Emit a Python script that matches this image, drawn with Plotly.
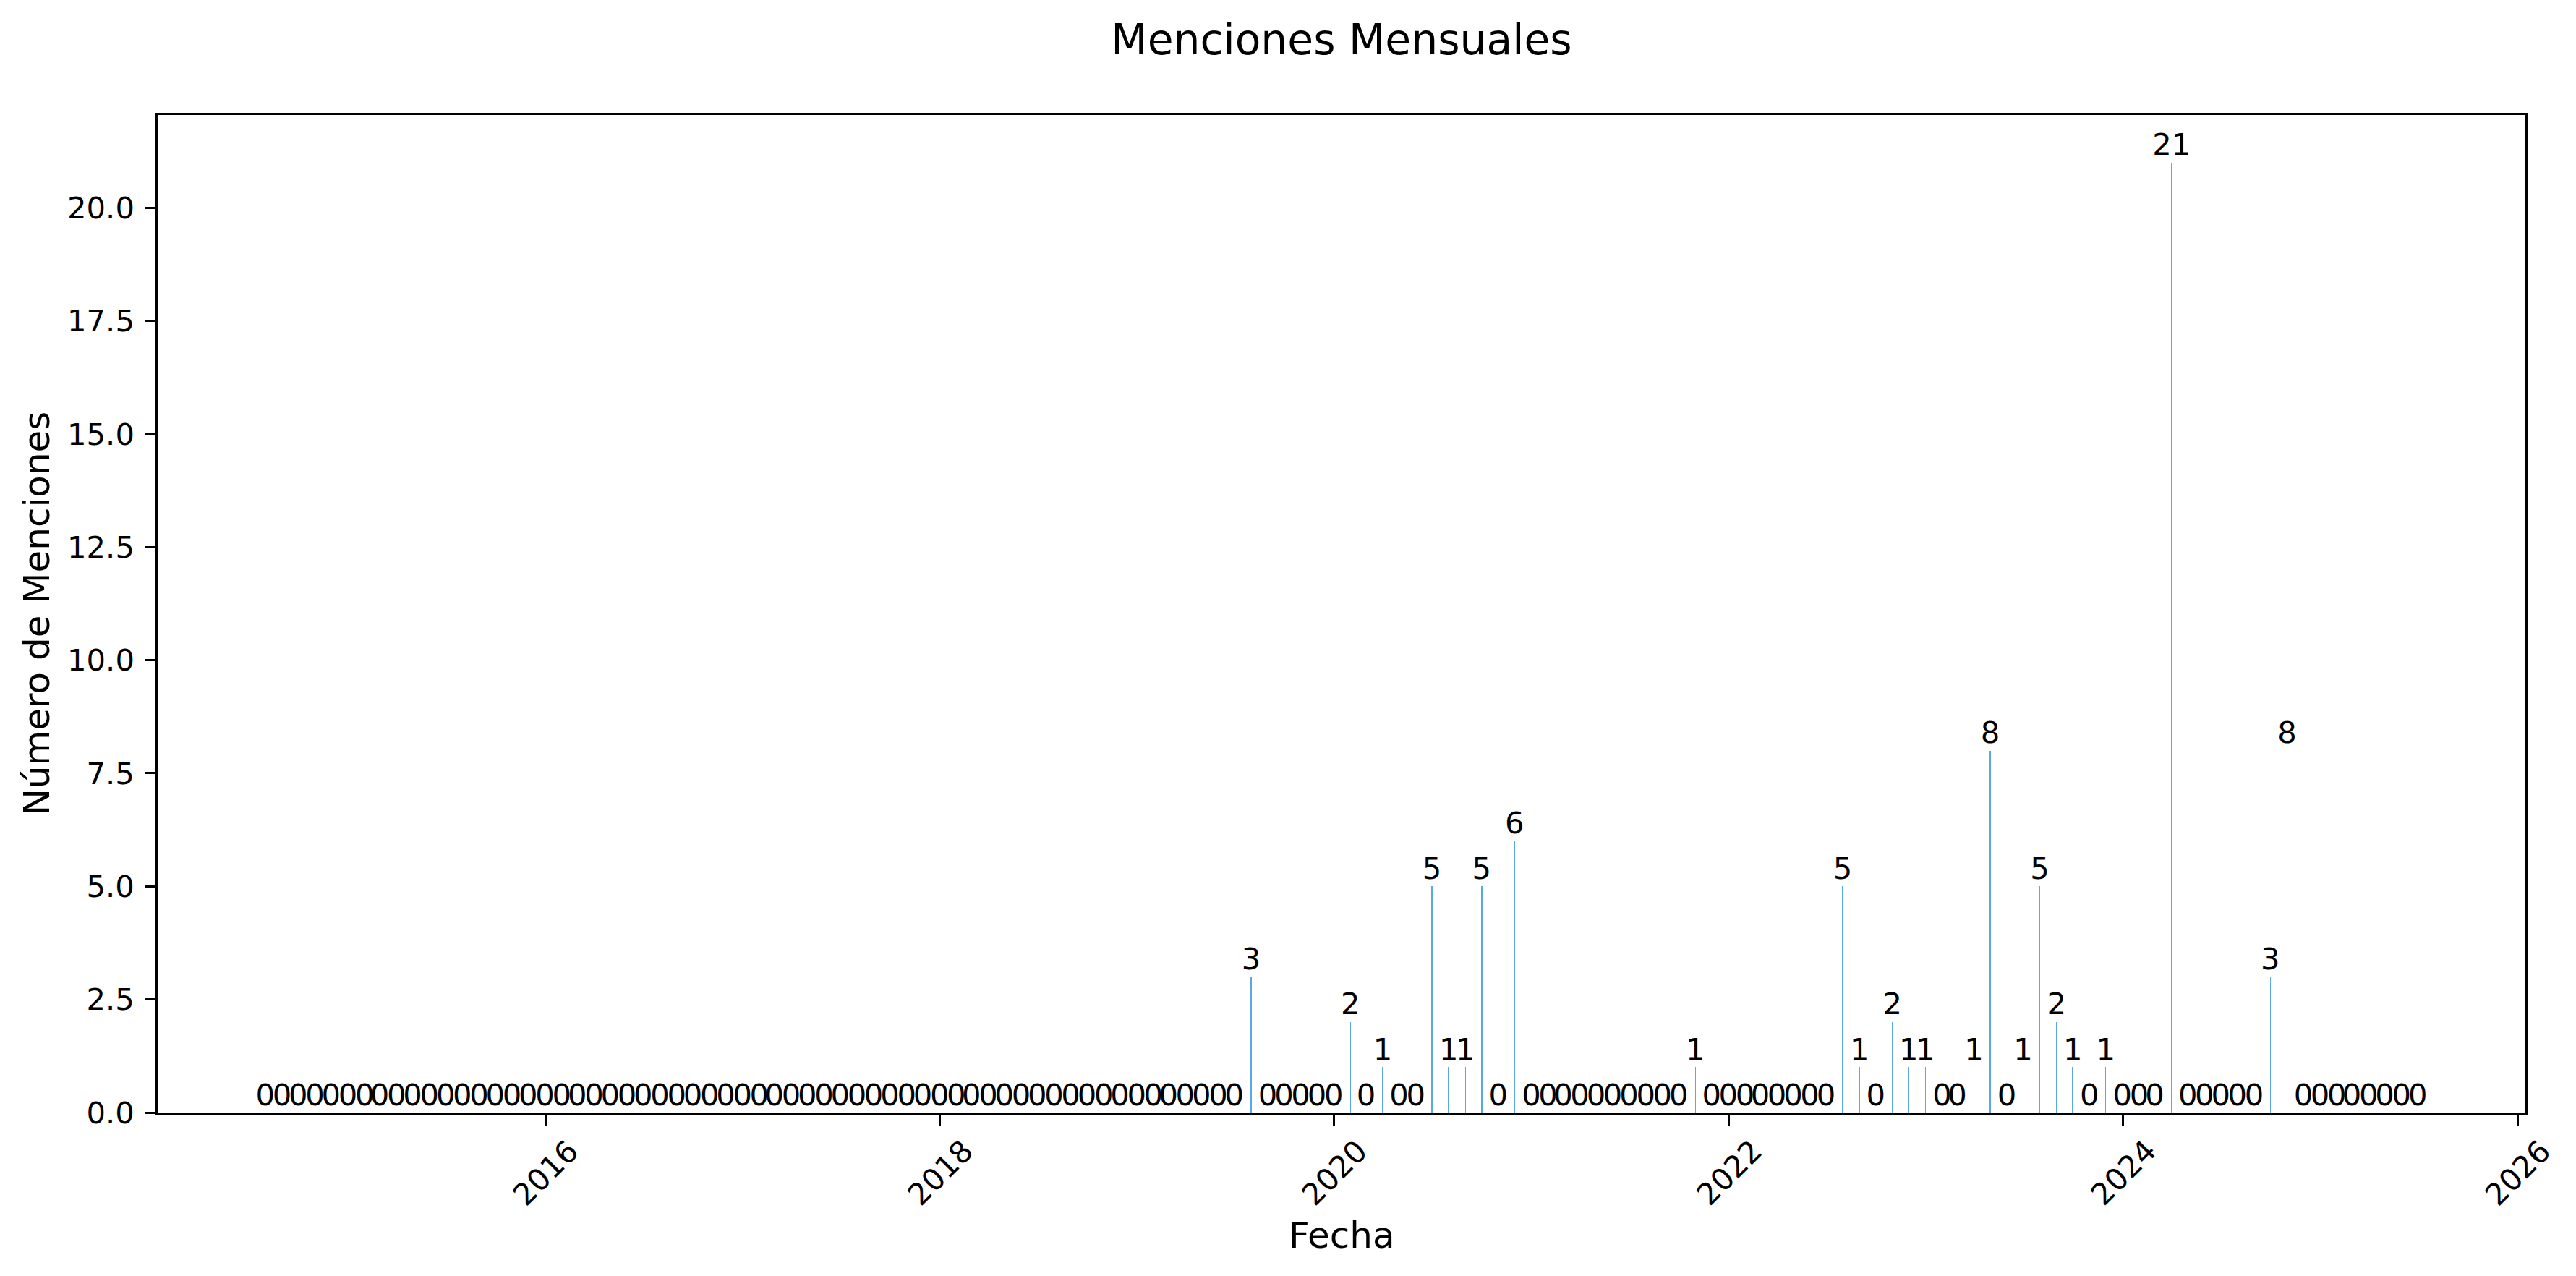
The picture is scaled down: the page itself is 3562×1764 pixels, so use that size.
import pandas as pd
import plotly.graph_objects as go

# ---- data (monthly, month-end dates) ----
first_month = "2014-07-31"
last_month = "2025-06-30"
months = pd.date_range(first_month, last_month, freq="ME")

mentions = [
    # 2014 Jul-Dec
    0, 0, 0, 0, 0, 0,
    # 2015
    0, 0, 0, 0, 0, 0, 0, 0, 0, 0, 0, 0,
    # 2016
    0, 0, 0, 0, 0, 0, 0, 0, 0, 0, 0, 0,
    # 2017
    0, 0, 0, 0, 0, 0, 0, 0, 0, 0, 0, 0,
    # 2018
    0, 0, 0, 0, 0, 0, 0, 0, 0, 0, 0, 0,
    # 2019
    0, 0, 0, 0, 0, 0, 3, 0, 0, 0, 0, 0,
    # 2020
    2, 0, 1, 0, 0, 5, 1, 1, 5, 0, 6, 0,
    # 2021
    0, 0, 0, 0, 0, 0, 0, 0, 0, 1, 0, 0,
    # 2022
    0, 0, 0, 0, 0, 0, 5, 1, 0, 2, 1, 1,
    # 2023
    0, 0, 1, 8, 0, 1, 5, 2, 1, 0, 1, 0,
    # 2024
    0, 0, 21, 0, 0, 0, 0, 0, 3, 8, 0, 0,
    # 2025 Jan-Jun
    0, 0, 0, 0, 0, 0,
]

x_tick_labels = ["2016", "2018", "2020", "2022", "2024", "2026"]
y_tick_values = [0, 2.5, 5, 7.5, 10, 12.5, 15, 17.5, 20]

title_text = "Menciones Mensuales"
x_title = "Fecha"
y_title = "Número de Menciones"

# ---- styling ----
PAGE_OFFSET = 8  # default body margin of the html page
W, H = 3562 - 2 * PAGE_OFFSET, 1764 - 2 * PAGE_OFFSET
ML, MR = 218 - PAGE_OFFSET, 70 - PAGE_OFFSET
MT, MB = 159 - PAGE_OFFSET, 226 - PAGE_OFFSET
FONT = "DejaVu Sans"
TICK_FS = 41.7
LABEL_FS = 50
TITLE_FS = 58.3
LW = 3.3
BAR_COLOR = "#5aa9e6"
DAY_MS = 86400000

# axis limits like matplotlib default margins (5%)
span = months[-1] - months[0]
x_lo = months[0] - span * 0.05
x_hi = months[-1] + span * 0.05
y_hi = max(mentions) * 1.05

fig = go.Figure()
fig.add_trace(go.Bar(
    x=months, y=mentions, width=0.8 * DAY_MS,
    marker=dict(color=BAR_COLOR, line=dict(width=0)),
    hoverinfo="skip",
))
fig.add_trace(go.Scatter(
    x=months, y=mentions, mode="text",
    text=[str(v) for v in mentions],
    textposition="top center",
    textfont=dict(family=FONT, size=TICK_FS, color="black"),
    cliponaxis=False, hoverinfo="skip",
))

tick_dates = [pd.Timestamp(f"{y}-01-01") for y in x_tick_labels]

axis_common = dict(
    showline=True, linecolor="black", linewidth=LW, mirror=True,
    ticks="outside", ticklen=14.6, tickwidth=LW, tickcolor="black",
    showgrid=False, zeroline=False,
)
fig.update_xaxes(type="date", range=[x_lo, x_hi], tickvals=tick_dates,
                 showticklabels=False, **axis_common)
fig.update_yaxes(range=[0, y_hi], tickvals=y_tick_values, tickformat=".1f",
                 tickfont=dict(family=FONT, size=TICK_FS, color="black"),
                 ticklabelstandoff=6, **axis_common)

annotations = []
for d, lab in zip(tick_dates, x_tick_labels):
    annotations.append(dict(
        x=d, xref="x", y=-0.0602, yref="paper", text=lab, showarrow=False,
        textangle=-45, xanchor="center", yanchor="middle",
        font=dict(family=FONT, size=TICK_FS, color="black"),
    ))
annotations.append(dict(
    x=0.5, xref="paper", y=-0.1233, yref="paper", text=x_title, showarrow=False,
    xanchor="center", yanchor="middle",
    font=dict(family=FONT, size=LABEL_FS, color="black"),
))
annotations.append(dict(
    x=-0.0513, xref="paper", y=0.5, yref="paper", text=y_title, showarrow=False,
    textangle=-90, xanchor="center", yanchor="middle",
    font=dict(family=FONT, size=LABEL_FS, color="black"),
))

fig.update_layout(
    width=W, height=H,
    margin=dict(l=ML, r=MR, t=MT, b=MB),
    paper_bgcolor="white", plot_bgcolor="white",
    showlegend=False,
    font=dict(family=FONT, color="black"),
    title=dict(text=title_text, x=0.5, xref="paper",
               y=1 - (54.5 - PAGE_OFFSET) / H,
               yref="container", xanchor="center", yanchor="middle",
               font=dict(family=FONT, size=TITLE_FS, color="black")),
    annotations=annotations,
    bargap=0,
)

fig.write_html("out.html")
